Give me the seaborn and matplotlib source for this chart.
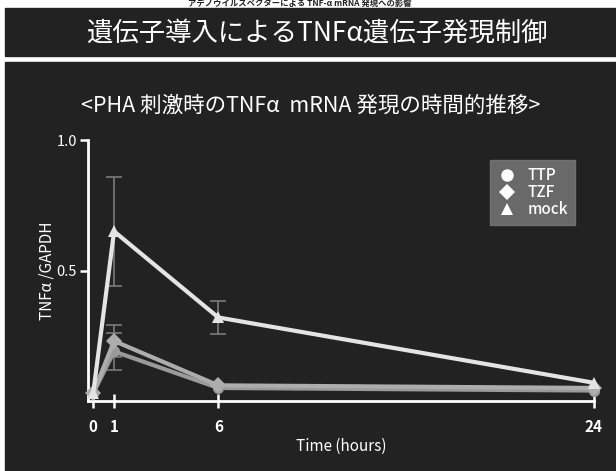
import numpy as np
import pandas as pd
import matplotlib
matplotlib.use("Agg")
import matplotlib.pyplot as plt
from matplotlib.patches import Rectangle
from matplotlib.lines import Line2D
import seaborn as sns

# ---- data -------------------------------------------------------------
hours = [0, 1, 6, 24]
ttp = [0.03, 0.19, 0.05, 0.04]
tzf = [0.03, 0.23, 0.06, 0.05]
mock = [0.03, 0.65, 0.32, 0.07]
ttp_err = [0.0, 0.07, 0.0, 0.0]
tzf_err = [0.0, 0.06, 0.0, 0.0]
mock_err = [0.0, 0.21, 0.065, 0.0]
series_names = ["TTP", "TZF", "mock"]
x_ticks = [0, 1, 6, 24]
y_ticks = [0.5, 1.0]
y_tick_labels = ["0.5", "1.0"]

header_text = "アデノウイルスベクターによる TNF-α mRNA 発現への影響"
title_text = "遺伝子導入によるTNFα遺伝子発現制御"
subtitle_text = "<PHA 刺激時のTNFα  mRNA 発現の時間的推移>"
x_label = "Time (hours)"
y_label = "TNFα /GAPDH"

# ---- styling ----------------------------------------------------------
sns.set_theme(style="white")
plt.rcParams["font.family"] = ["Noto Sans CJK JP", "DejaVu Sans"]

W, H = 616, 471
fig = plt.figure(figsize=(W / 100, H / 100), dpi=100, facecolor="white")

def fx(px):
    return px / W

def fy(py):
    return 1 - py / H

panel = "#222222"
# title bar and chart panel, kept behind the axes
fig.patches.append(Rectangle((fx(5), fy(56)), 1 - fx(5), (56 - 8) / H,
                             transform=fig.transFigure, color=panel,
                             zorder=-5))
fig.patches.append(Rectangle((fx(5), 0), 1 - fx(5), fy(62),
                             transform=fig.transFigure, color=panel,
                             zorder=-5))

fig.text(fx(300), fy(3.5), header_text, color="#222222", fontsize=6,
         ha="center", va="center", fontweight="bold")
fig.text(fx(318), fy(33), title_text, color="white", fontsize=19,
         ha="center", va="center")
fig.text(fx(311), fy(106), subtitle_text, color="white", fontsize=15.5,
         ha="center", va="center")

# ---- axes -------------------------------------------------------------
ax = fig.add_axes([fx(88), fy(401), fx(594) - fx(88), (401 - 140) / H])
ax.set_facecolor("none")

df = pd.DataFrame({
    "hours": hours * 3,
    "value": ttp + tzf + mock,
    "series": sum([[n] * len(hours) for n in series_names], []),
})

line_colors = {"TTP": "#9a9a9a", "TZF": "#adadad", "mock": "#e4e4e4"}
markers = {"TTP": "o", "TZF": "D", "mock": "^"}

# error bars drawn beneath the lines
for name, vals, errs in [("TTP", ttp, ttp_err), ("TZF", tzf, tzf_err),
                         ("mock", mock, mock_err)]:
    xs = [h for h, e in zip(hours, errs) if e > 0]
    ys = [v for v, e in zip(vals, errs) if e > 0]
    es = [e for e in errs if e > 0]
    ax.errorbar(xs, ys, yerr=es, fmt="none", ecolor="#7a7a7a",
                elinewidth=1.2, capsize=6, capthick=1.2, zorder=2)

sns.lineplot(data=df, x="hours", y="value", hue="series", style="series",
             palette=line_colors, markers=markers, dashes=False,
             linewidth=3, markersize=8, markeredgewidth=0,
             legend=False, ax=ax, zorder=3, clip_on=False)

ax.set_xlim(-0.25, 24.02)
ax.set_ylim(0, 1.0)
ax.set_xticks(x_ticks)
ax.set_xticklabels([str(t) for t in x_ticks], fontweight="bold")
ax.set_yticks(y_ticks)
ax.set_yticklabels(y_tick_labels)

for side in ["top", "right"]:
    ax.spines[side].set_visible(False)
for side in ["left", "bottom"]:
    ax.spines[side].set_color("white")
    ax.spines[side].set_linewidth(2)

ax.tick_params(axis="x", colors="white", direction="inout", length=10,
               width=1.8, labelsize=11, pad=8, labelcolor="white")
ax.tick_params(axis="y", colors="white", direction="out", length=6,
               width=1.8, labelsize=10.5, pad=2, labelcolor="white",
               left=True)
ax.xaxis.set_ticks_position("bottom")
ax.yaxis.set_ticks_position("left")

ax.set_xlabel(x_label, color="white", fontsize=11, labelpad=2)
ax.set_ylabel(y_label, color="white", fontsize=11, labelpad=1)

# ---- legend -----------------------------------------------------------
handles = [Line2D([], [], linestyle="none", marker=markers[n], color="white",
                  markersize=9 if n != "TZF" else 8, markeredgewidth=0)
           for n in series_names]
leg = fig.legend(handles, series_names, loc="upper left",
                 bbox_to_anchor=(fx(490), fy(160)), frameon=True,
                 fontsize=11, handlelength=1.3, handletextpad=0.7,
                 borderpad=0.45, labelspacing=0.0, borderaxespad=0)
leg.get_frame().set_facecolor("#7c7c7c")
leg.get_frame().set_edgecolor("#7c7c7c")
leg.get_frame().set_boxstyle("square", pad=0)
for t in leg.get_texts():
    t.set_color("white")
    t.set_fontweight("medium")

fig.savefig("out.png", dpi=100, facecolor="white")
